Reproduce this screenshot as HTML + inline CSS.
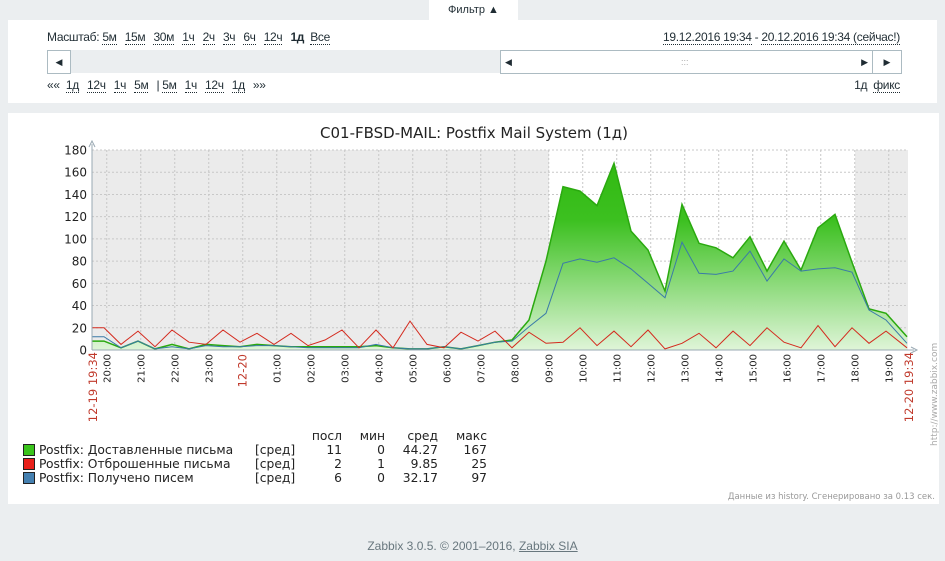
<!DOCTYPE html>
<html><head><meta charset="utf-8"><style>
body{margin:0;width:945px;height:561px;background:#ebeef0;font-family:"Liberation Sans",Arial,sans-serif;position:relative;overflow:hidden;color:#1f2c33}
.a{position:absolute}
.u{border-bottom:1px dotted #1f2c33}
.t{font-size:12px;letter-spacing:-0.3px;white-space:nowrap}
.t span{margin-right:5px}
</style></head><body>
<div class="a" style="left:429px;top:0;width:89px;height:21px;background:#fff;font-size:11px;text-align:center;line-height:20px">Фильтр ▲</div>
<div class="a" style="left:8px;top:20px;width:929px;height:83px;background:#fff"></div>
<div class="a t" style="left:47px;top:30px">Масштаб: <span class="u">5м</span> <span class="u">15м</span> <span class="u">30м</span> <span class="u">1ч</span> <span class="u">2ч</span> <span class="u">3ч</span> <span class="u">6ч</span> <span class="u">12ч</span> <b>1д</b>&nbsp; <span class="u">Все</span></div>
<div class="a t" style="right:45px;top:30px"><span class="u" style="margin:0">19.12.2016 19:34</span> - <span class="u" style="margin:0">20.12.2016 19:34 (сейчас!)</span></div>
<div class="a" style="left:47px;top:50px;width:854px;height:23px;background:#ebeef0"></div>
<div class="a" style="left:47px;top:50px;width:22px;height:22px;background:#fff;border:1px solid #acbbc2;font-size:9px;line-height:22px;text-align:center">◀</div>
<div class="a" style="left:500px;top:50px;width:371px;height:22px;background:#fff;border:1px solid #acbbc2;font-size:9px;line-height:22px"><span style="position:absolute;left:4px">◀</span><span style="position:absolute;left:180px;color:#aaa">:::</span><span style="position:absolute;right:4px">▶</span></div>
<div class="a" style="left:872px;top:50px;width:28px;height:22px;background:#fff;border:1px solid #acbbc2;font-size:9px;line-height:22px;text-align:center">▶</div>
<div class="a t" style="left:47px;top:78px">«« &nbsp;<span class="u">1д</span> <span class="u">12ч</span> <span class="u">1ч</span> <span class="u">5м</span> | <span class="u">5м</span> <span class="u">1ч</span> <span class="u">12ч</span> <span class="u">1д</span> »»</div>
<div class="a t" style="right:45px;top:78px">1д &nbsp;<span class="u" style="margin:0">фикс</span></div>
<div class="a" style="left:8px;top:113px;width:931px;height:391px;background:#fff"></div>
<svg class="a" style="left:0;top:0" width="945" height="561" id="g" font-family="DejaVu Sans, sans-serif"></svg>
<div class="a" style="left:0;width:945px;top:539px;text-align:center;font-size:12px;color:#68777e">Zabbix 3.0.5. © 2001–2016, <span style="text-decoration:underline">Zabbix SIA</span></div>
<script>
var G=[8,8,2,8,1,5,1,5,4,3,5,4,3,3,3,3,3,4,2,1,1,3,1,4,7,9,27,80,147,143,130,168,107,90,53,131,96,92,83,102,71,98,72,110,122,79,37,33,12];
var B=[12,12,2,8,1,3,1,4,3,3,4,4,3,2,2,2,2,5,2,1,1,3,1,4,7,8,21,33,78,82,79,83,73,60,47,97,69,68,71,89,62,82,71,73,74,70,36,27,6];
var R=[20,20,5,17,3,18,7,5,18,7,15,5,15,4,9,18,2,18,2,26,5,2,16,8,17,2,16,6,7,20,4,17,3,18,1,6,15,2,17,4,20,7,2,22,3,20,6,17,2];
function X(i){return i==0?92:(i==48?907:104+17*(i-1));}
function Y(v){return 350-v*200/180;}
function pts(a){return a.map((v,i)=>X(i)+','+Y(v).toFixed(1)).join(' ');}
var s='<defs><linearGradient id="gr" x1="0" y1="150" x2="0" y2="350" gradientUnits="userSpaceOnUse"><stop offset="0" stop-color="#2fb80e"/><stop offset="0.35" stop-color="#3cc020"/><stop offset="1" stop-color="#dff5d8"/></linearGradient></defs>';
s+='<rect x="92" y="150" width="457" height="200" fill="#ebebeb"/><rect x="855" y="150" width="53" height="200" fill="#ebebeb"/>';
for(var v=0;v<=180;v+=20){var y=Y(v);if(v>0)s+='<line x1="92" x2="908" y1="'+y+'" y2="'+y+'" stroke="#c8c8c8" stroke-dasharray="2,2"/>';s+='<text x="87" y="'+(y+4.5)+'" font-size="12" text-anchor="end" fill="#222">'+v+'</text>';}
var hrs=['20:00','21:00','22:00','23:00','12-20','01:00','02:00','03:00','04:00','05:00','06:00','07:00','08:00','09:00','10:00','11:00','12:00','13:00','14:00','15:00','16:00','17:00','18:00','19:00'];
for(var h=0;h<24;h++){var x=92+(h+26/60)*34;s+='<line x1="'+x+'" x2="'+x+'" y1="150" y2="350" stroke="#c8c8c8" stroke-dasharray="2,2"/>';var red=hrs[h]=='12-20';s+='<text transform="translate('+(x+4)+',354) rotate(-90)" font-size="'+(red?11.5:10)+'" text-anchor="end" fill="'+(red?'#c0392b':'#222')+'">'+hrs[h]+'</text>';}
s+='<text transform="translate(97,352) rotate(-90)" font-size="11.5" text-anchor="end" fill="#c0392b">12-19 19:34</text>';
s+='<text transform="translate(913,352) rotate(-90)" font-size="11.5" text-anchor="end" fill="#c0392b">12-20 19:34</text>';
s+='<polygon points="92,350 '+pts(G)+' 907,350" fill="url(#gr)"/>';
s+='<polyline points="'+pts(G)+'" fill="none" stroke="#2aa90f" stroke-width="1.5"/>';
s+='<polyline points="'+pts(B)+'" fill="none" stroke="#3a7aa8" stroke-width="1"/>';
s+='<polyline points="'+pts(R)+'" fill="none" stroke="#d42a1e" stroke-width="1"/>';
s+='<line x1="92" x2="92" y1="144" y2="350" stroke="#9aa9b3"/><line x1="92" x2="914" y1="350" y2="350" stroke="#9aa9b3"/>';
s+='<path d="M89,147 L92,141 L95,147" fill="none" stroke="#9aa9b3"/><path d="M911,347 L917,350 L911,353" fill="none" stroke="#9aa9b3"/>';
s+='<text x="474" y="138" font-size="15" text-anchor="middle" fill="#222">C01-FBSD-MAIL: Postfix Mail System (1д)</text>';
s+='<text transform="translate(937,446) rotate(-90)" font-size="9" fill="#aaa">http://www.zabbix.com</text>';
s+='<text x="935" y="499" font-size="8.5" text-anchor="end" fill="#999">Данные из history. Сгенерировано за 0.13 сек.</text>';
var L=[['#3ac41c','Postfix: Доставленные письма','11','0','44.27','167'],['#e8201a','Postfix: Отброшенные письма','2','1','9.85','25'],['#4580b0','Postfix: Получено писем','6','0','32.17','97']];
s+='<g font-size="12.3" fill="#222"><text x="342" y="440" text-anchor="end">посл</text><text x="385" y="440" text-anchor="end">мин</text><text x="438" y="440" text-anchor="end">сред</text><text x="487" y="440" text-anchor="end">макс</text>';
L.forEach(function(l,i){var y=454+i*14;s+='<rect x="23.5" y="'+(y-9.5)+'" width="11" height="11" fill="'+l[0]+'" stroke="#222"/><text x="39" y="'+y+'">'+l[1]+'</text><text x="255" y="'+y+'">[сред]</text><text x="342" y="'+y+'" text-anchor="end">'+l[2]+'</text><text x="385" y="'+y+'" text-anchor="end">'+l[3]+'</text><text x="438" y="'+y+'" text-anchor="end">'+l[4]+'</text><text x="487" y="'+y+'" text-anchor="end">'+l[5]+'</text>';});
s+='</g>';
document.getElementById('g').innerHTML=s;
</script>
</body></html>
